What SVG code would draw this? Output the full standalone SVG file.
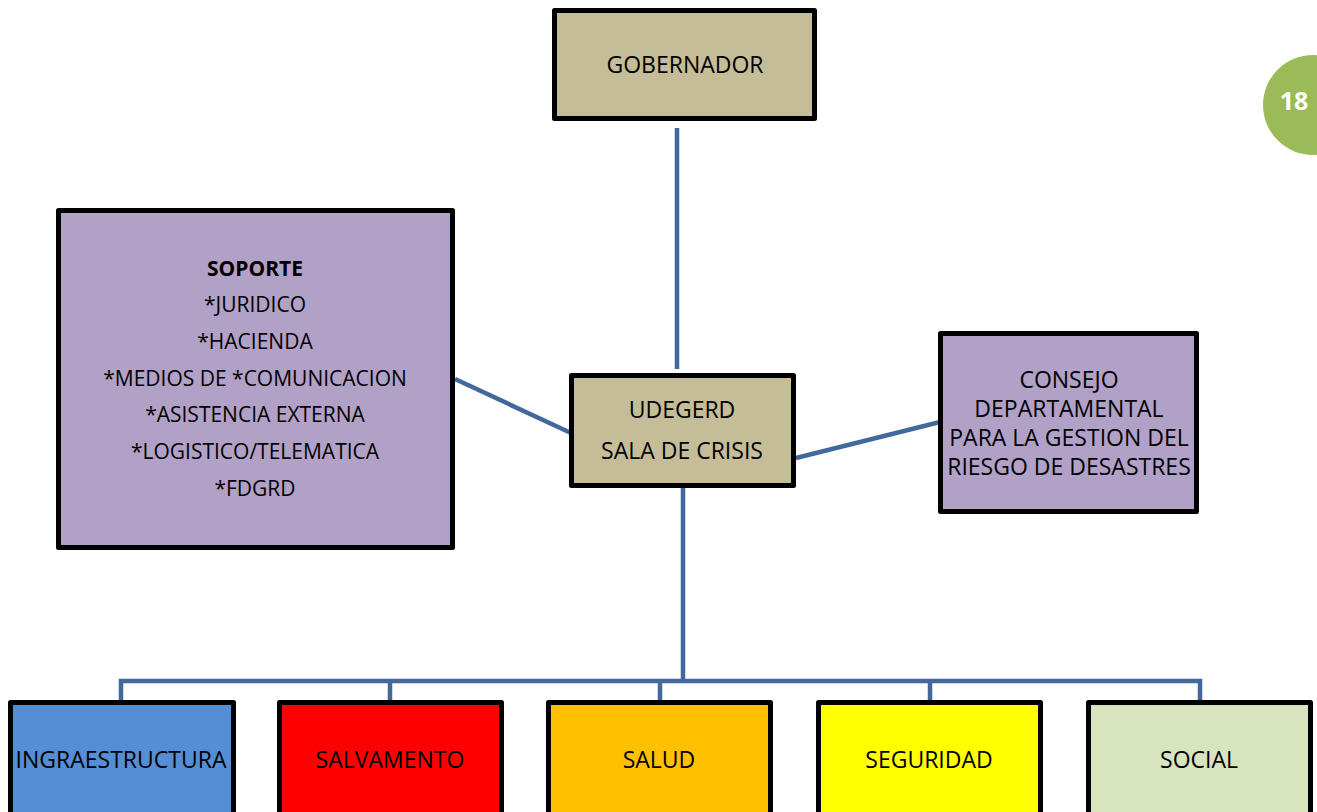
<svg xmlns="http://www.w3.org/2000/svg" width="1317" height="812" viewBox="0 0 1317 812">
<style>
.box{stroke:#000;stroke-width:5;stroke-linejoin:round}
.t{font-family:"Open Sans","Liberation Sans",sans-serif;font-size:23px;fill:#000;text-anchor:middle}
.s{font-size:21px}
.c{stroke:#43699C;stroke-width:4.5;fill:none}
</style>
<rect width="1317" height="812" fill="#fff"/>
<g id="page-number">
<circle cx="1313" cy="105" r="50" fill="#9BBB59"/>
<text x="1294" y="110" font-family="Open Sans, Liberation Sans, sans-serif" font-size="25" font-weight="bold" fill="#fff" text-anchor="middle">18</text>
</g>
<g id="connectors">
<line class="c" x1="677" y1="128" x2="677" y2="369"/>
<line class="c" x1="455" y1="379" x2="571" y2="433"/>
<line class="c" x1="796" y1="458" x2="940" y2="422"/>
<line class="c" x1="683" y1="488" x2="683" y2="681"/>
<polyline class="c" points="121,702 121,681 1200,681 1200,702"/>
<line class="c" x1="390" y1="681" x2="390" y2="702"/>
<line class="c" x1="660" y1="681" x2="660" y2="702"/>
<line class="c" x1="930" y1="681" x2="930" y2="702"/>
</g>
<g id="gobernador">
<rect class="box" x="554.5" y="10.5" width="260" height="108" fill="#C4BD97"/>
<text class="t" x="685" y="73">GOBERNADOR</text>
</g>
<g id="soporte">
<rect class="box" x="58.5" y="210.5" width="394" height="337" fill="#B2A1C7"/>
<text class="t s" x="255" y="276" font-weight="bold">SOPORTE</text>
<text class="t s" x="255" y="312">*JURIDICO</text>
<text class="t s" x="255" y="349">*HACIENDA</text>
<text class="t s" x="255" y="386">*MEDIOS DE *COMUNICACION</text>
<text class="t s" x="255" y="422">*ASISTENCIA EXTERNA</text>
<text class="t s" x="255" y="459">*LOGISTICO/TELEMATICA</text>
<text class="t s" x="255" y="496">*FDGRD</text>
</g>
<g id="udegerd">
<rect class="box" x="571.5" y="375.5" width="222" height="110" fill="#C4BD97"/>
<text class="t" x="682" y="418">UDEGERD</text>
<text class="t" x="682" y="459">SALA DE CRISIS</text>
</g>
<g id="consejo">
<rect class="box" x="940.5" y="333.5" width="256" height="178" fill="#B2A1C7"/>
<text class="t" x="1069" y="388">CONSEJO</text>
<text class="t" x="1069" y="417">DEPARTAMENTAL</text>
<text class="t" x="1069" y="446">PARA LA GESTION DEL</text>
<text class="t" x="1069" y="475">RIESGO DE DESASTRES</text>
</g>
<g id="infraestructura">
<rect class="box" x="10.5" y="702.5" width="223" height="130" fill="#558ED5"/>
<text class="t" x="121" y="768">INGRAESTRUCTURA</text>
</g>
<g id="salvamento">
<rect class="box" x="279.5" y="702.5" width="222" height="130" fill="#FF0000"/>
<text class="t" x="390" y="768">SALVAMENTO</text>
</g>
<g id="salud">
<rect class="box" x="548.5" y="702.5" width="222" height="130" fill="#FFC000"/>
<text class="t" x="659" y="768">SALUD</text>
</g>
<g id="seguridad">
<rect class="box" x="818.5" y="702.5" width="222" height="130" fill="#FFFF00"/>
<text class="t" x="929" y="768">SEGURIDAD</text>
</g>
<g id="social">
<rect class="box" x="1088.5" y="702.5" width="222" height="130" fill="#D7E4BD"/>
<text class="t" x="1199" y="768">SOCIAL</text>
</g>
</svg>
